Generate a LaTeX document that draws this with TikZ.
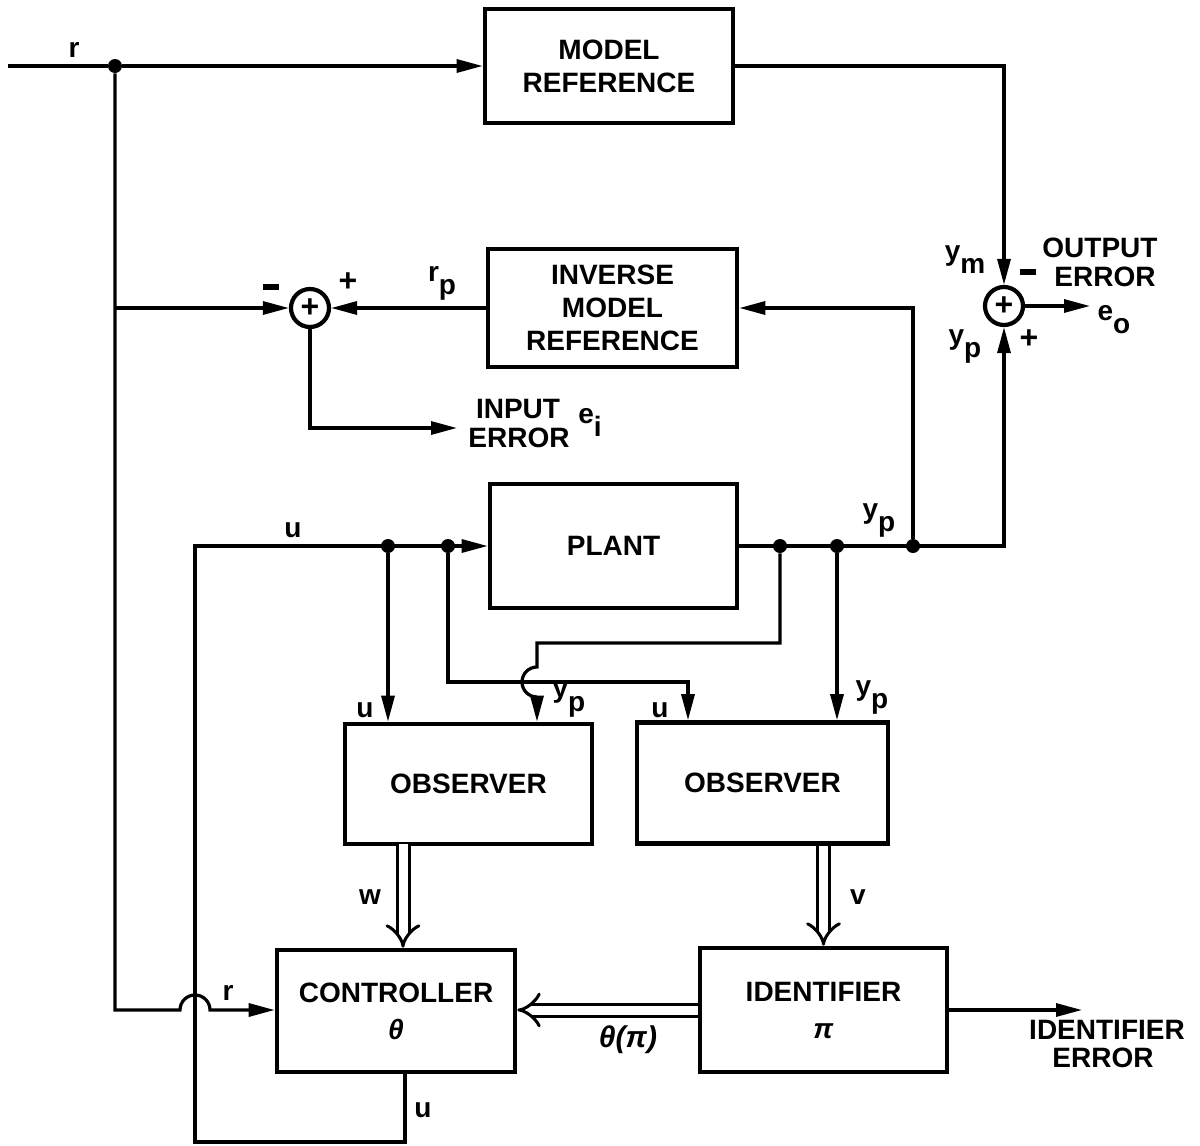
\documentclass[tikz,border=0pt]{standalone}
\usepackage{fontspec}
\setmainfont{Liberation Sans}
\usetikzlibrary{arrows.meta,calc}
\newcommand\lsub[1]{\raisebox{-6.5pt}{#1}}
\newcommand\minussign{\rule{8pt}{2.6pt}}
\begin{document}
\begin{tikzpicture}[x=0.5pt,y=-0.5pt,
  font=\fontsize{14}{16.5}\selectfont\bfseries,
  blk/.style={draw, line width=2.3pt, inner sep=0pt, align=center},
  sig/.style={line width=1.6pt, -{Triangle[length=13pt,width=6.5pt]}},
  wire/.style={line width=1.6pt},
  dbl/.style={double, double distance=4.5pt, line width=1.5pt, -{Implies}},
  sumc/.style={circle, draw, line width=2.1pt, minimum size=19pt, inner sep=0pt, font=\fontsize{16}{16}\selectfont\bfseries},
  dot/.style={circle, fill, inner sep=0pt, minimum size=7pt},
  lbl/.style={inner sep=0pt}
]
\useasboundingbox (0,0) rectangle (1200,1146);
% blocks
\node[blk, minimum width=124pt, minimum height=57pt] (mr) at (609,66) {MODEL\\REFERENCE};
\node[blk, minimum width=124.5pt, minimum height=59pt] (imr) at (612.5,308) {INVERSE\\MODEL\\REFERENCE};
\node[blk, minimum width=123.5pt, minimum height=62pt] (plant) at (613.5,546) {PLANT};
\node[blk, minimum width=123.5pt, minimum height=60pt] (obs1) at (468.5,784) {OBSERVER};
\node[blk, minimum width=125.5pt, minimum height=60.5pt] (obs2) at (762.5,783) {OBSERVER};
\node[blk, minimum width=119pt, minimum height=61pt] (ctrl) at (396,1011) {CONTROLLER\\[2pt]\textit{θ}};
\node[blk, minimum width=123.5pt, minimum height=62pt] (ident) at (823.5,1010) {IDENTIFIER\\[2pt]\textit{π}};
% summing junctions
\node[sumc] (s1) at (310,308) {+};
\node[sumc] (s2) at (1004,306) {+};
% branch points and corners
\coordinate (rin) at (8,66);
\node[dot] (j1) at (115,66) {};
\coordinate (rt) at (115,308);
\coordinate (rb) at (115,1010);
\coordinate (hop1) at (195,1010);
\coordinate (cl) at (195,1142);
\coordinate (cb) at (405,1142);
\coordinate (ul) at (195,546);
\node[dot] (j6) at (388,546) {};
\node[dot] (j7) at (448,546) {};
\node[dot] (j3) at (780,546) {};
\node[dot] (j4) at (837,546) {};
\node[dot] (j5) at (913,546) {};
\coordinate (c7) at (448,682);
\coordinate (c7r) at (688,682);
\coordinate (c3) at (780,643);
\coordinate (c3l) at (537,643);
\coordinate (ei) at (457,428);
\coordinate (eo) at (1090,306);
\coordinate (ie) at (1082,1010);
\coordinate (w1) at (403,844);
% connectors
\draw[sig] (rin) -- (j1) -- (j1 -| mr.west);
\draw[sig] (mr.east) -- (mr.east -| s2) -- (s2.north);
\draw[sig] (s2.east) -- (eo);
\draw[sig] (j1) -- (rb) -- ($(hop1)+(-15,0)$) arc[start angle=180,end angle=0,radius=7.5pt] -- (rb -| ctrl.west);
\draw[sig] (rt) -- (s1.west);
\draw[sig] (imr.west) -- (s1.east);
\draw[sig] (s1.south) -- (s1 |- ei) -- (ei);
\draw[sig] (plant.east) -- (s2 |- plant.east) -- (s2.south);
\draw[sig] (j5) -- (j5 |- imr.east) -- (imr.east);
\draw[sig] (cb |- ctrl.south) -- (cb) -- (cl) -- (ul) -- (plant.west);
\draw[sig] (j6) -- (j6 |- obs1.north);
\draw[sig] (j7) -- (c7) -- (c7r) -- (c7r |- obs2.north);
\draw[sig] (j3) -- (c3) -- (c3l) -- ($(c3l |- c7)+(0,-15)$) arc[start angle=90,end angle=270,radius=7.5pt] -- (c3l |- obs1.north);
\draw[sig] (j4) -- (j4 |- obs2.north);
\draw[dbl] (w1) -- (w1 |- ctrl.north);
\draw[dbl] (ident.north |- obs2.south) -- (ident.north);
\draw[dbl] (ident.west) -- (ident.west -| ctrl.east);
\draw[sig] (ident.east) -- (ie);
% labels
\node[lbl] at (74,50) {r};
\node[lbl] at (965,260) {y\lsub{m}};
\node[lbl] at (1028,272) {\minussign};
\node[lbl] at (1100,248) {OUTPUT};
\node[lbl] at (1105,277) {ERROR};
\node[lbl] at (1114,320) {e\lsub{o}};
\node[lbl] at (965,347) {y\lsub{p}};
\node[lbl, font=\fontsize{16}{16}\selectfont\bfseries] at (1029,339) {+};
\node[lbl] at (271,287) {\minussign};
\node[lbl, font=\fontsize{16}{16}\selectfont\bfseries] at (348,282) {+};
\node[lbl] at (442,283) {r\lsub{p}};
\node[lbl] at (518,409) {INPUT};
\node[lbl] at (519,438) {ERROR};
\node[lbl] at (590,422) {e\lsub{i}};
\node[lbl] at (879,521) {y\lsub{p}};
\node[lbl] at (293,530) {u};
\node[lbl] at (365,710) {u};
\node[lbl] at (569,700) {y\lsub{p}};
\node[lbl] at (660,710) {u};
\node[lbl] at (872,697) {y\lsub{p}};
\node[lbl] at (370,897) {w};
\node[lbl] at (858,897) {v};
\node[lbl] at (228,993) {r};
\node[lbl] at (423,1110) {u};
\node[lbl, font=\fontsize{15}{15}\selectfont\bfseries] at (628,1040) {\textit{θ(π)}};
\node[lbl] at (1107,1030) {IDENTIFIER};
\node[lbl] at (1103,1058) {ERROR};
\end{tikzpicture}
\end{document}
